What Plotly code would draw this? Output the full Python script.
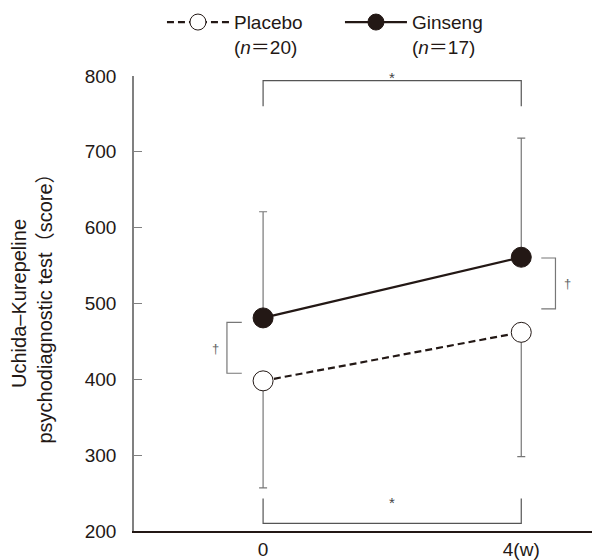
import plotly.graph_objects as go

weeks = [0, 4]
tick_text = ["0", "4(w)"]
placebo_mean = [398, 462]
placebo_sd = [141, 164]
ginseng_mean = [481, 561]
ginseng_sd = [140, 157]
placebo_label = "Placebo<br>(<i>n</i>＝20)"
ginseng_label = "Ginseng<br>(<i>n</i>＝17)"

FONT = "Liberation Sans, Arial, Noto Sans CJK JP, sans-serif"
BLACK = "#231815"
GRAY = "#777777"
Y_MIN, Y_MAX = 200, 800

fig = go.Figure()
fig.add_trace(go.Scatter(
    x=weeks, y=placebo_mean, name=placebo_label, mode="lines+markers",
    line=dict(color=BLACK, width=2.2, dash="7px,4px"),
    marker=dict(size=20, color="white", line=dict(color=BLACK, width=1)),
    error_y=dict(type="data", array=[0, 0], arrayminus=placebo_sd, symmetric=False,
                 color=GRAY, thickness=1.2, width=4),
))
fig.add_trace(go.Scatter(
    x=weeks, y=ginseng_mean, name=ginseng_label, mode="lines+markers",
    line=dict(color=BLACK, width=2.2),
    marker=dict(size=20, color=BLACK, line=dict(color=BLACK, width=1)),
    error_y=dict(type="data", array=ginseng_sd, arrayminus=[0, 0], symmetric=False,
                 color=GRAY, thickness=1.2, width=4),
))

# significance brackets
def bracket(pts, color):
    path = "M " + " L ".join(f"{x},{y}" for x, y in pts)
    fig.add_shape(type="path", path=path, xref="x", yref="y",
                  line=dict(color=color, width=1.2))

bracket([(0, 760), (0, 794), (4, 794), (4, 760)], "#555555")
bracket([(0, 243), (0, 210), (4, 210), (4, 243)], "#555555")
bracket([(-0.33, 475), (-0.56, 475), (-0.56, 408), (-0.33, 408)], GRAY)
bracket([(4.31, 560), (4.53, 560), (4.53, 493), (4.31, 493)], GRAY)

def note(x, y, text, size, color):
    # y given in data units; placed via y-domain so it may sit above the axis range
    fig.add_annotation(x=x, y=(y - Y_MIN) / (Y_MAX - Y_MIN), text=text, showarrow=False,
                       xref="x", yref="y domain",
                       font=dict(family=FONT, color=color, size=size))

note(2, 812, "*", 15, "#444444")
note(2, 224, "*", 15, "#444444")
note(-0.74, 441, "†", 13, "#666666")
note(4.71, 526, "†", 13, "#666666")

fig.update_layout(
    width=592, height=552,
    margin=dict(l=126, r=0, t=68, b=29, autoexpand=False),
    paper_bgcolor="white", plot_bgcolor="white",
    font=dict(family=FONT, size=19, color="#231815"),
    showlegend=True,
    legend=dict(orientation="h", xref="paper", yref="paper",
                x=0.060, y=1.16, xanchor="left", yanchor="top",
                itemwidth=62, valign="top", entrywidth=101,
                font=dict(family=FONT, size=19), bgcolor="rgba(0,0,0,0)",
                itemclick=False),
    xaxis=dict(range=[-2, 5.22], tickvals=weeks, ticktext=tick_text,
               showline=True, linecolor=BLACK, linewidth=1.5, ticks="",
               showgrid=False, zeroline=False, fixedrange=True),
    yaxis=dict(range=[Y_MIN, Y_MAX], tickvals=[200, 300, 400, 500, 600, 700, 800],
               showline=True, linecolor="#808080", linewidth=1.5,
               ticks="inside", ticklen=8, tickcolor="#808080", tickwidth=1.2,
               ticklabelstandoff=12,
               showgrid=False, zeroline=False, fixedrange=True,
               title=dict(text="Uchida–Kurepeline<br>psychodiagnostic test（score）",
                          standoff=30, font=dict(size=20))),
)

fig.write_html("out.html")
